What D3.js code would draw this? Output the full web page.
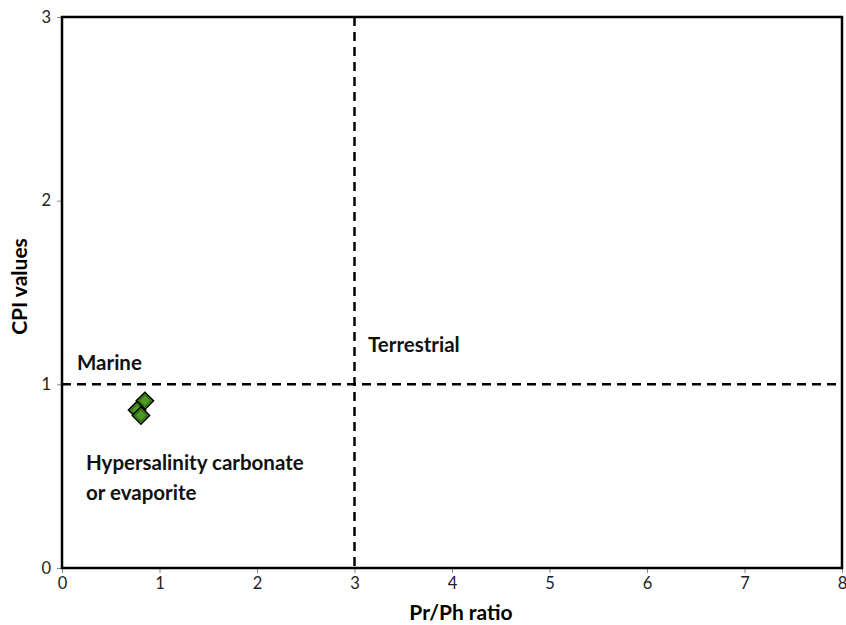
<!DOCTYPE html>
<html>
<head>
<meta charset="utf-8">
<script src="https://cdn.jsdelivr.net/npm/d3@7"></script>
<style>
  body { margin: 0; background: #fff; }
  svg text { font-family: Lato, "Open Sans", sans-serif; }
</style>
</head>
<body>
<svg id="chart" width="846" height="625"></svg>
<script>
// Pr/Ph ratio vs CPI values
const prPh = [0.85, 0.77, 0.81];
const cpi = [0.91, 0.86, 0.83];
const xTicks = [0, 1, 2, 3, 4, 5, 6, 7, 8];
const yTicks = [0, 1, 2, 3];
const xDivider = 3;
const yDivider = 1;

const svg = d3.select("#chart");
const margin = { left: 62, right: 4, top: 17, bottom: 57 };
const W = 846, H = 625;

const x = d3.scaleLinear().domain([0, 8]).range([margin.left, W - margin.right]);
const y = d3.scaleLinear().domain([0, 3]).range([H - margin.bottom, margin.top]);

// axes
const xAxis = svg.append("g")
  .attr("transform", `translate(0,${y(0)})`)
  .call(d3.axisBottom(x).tickValues(xTicks).tickFormat(d3.format("d")).tickSize(5).tickPadding(4));
const yAxis = svg.append("g")
  .attr("transform", `translate(${x(0)},0)`)
  .call(d3.axisLeft(y).tickValues(yTicks).tickFormat(d3.format("d")).tickSize(5).tickPadding(6));
[xAxis, yAxis].forEach(a => {
  a.select(".domain").remove();
  a.selectAll(".tick line").attr("stroke", "#888");
  a.selectAll(".tick text").attr("font-size", 16.5).attr("fill", "#222")
    .style("font-family", "Lato, 'Open Sans', sans-serif");
});

// frame
svg.append("rect")
  .attr("x", x(0)).attr("y", y(3))
  .attr("width", x(8) - x(0)).attr("height", y(0) - y(3))
  .attr("fill", "none").attr("stroke", "#000").attr("stroke-width", 2.5);

// divider lines
svg.append("line")
  .attr("x1", x(xDivider)).attr("x2", x(xDivider))
  .attr("y1", y(3)).attr("y2", y(0))
  .attr("stroke", "#000").attr("stroke-width", 2.5).attr("stroke-dasharray", "9,6");
svg.append("line")
  .attr("x1", x(0)).attr("x2", x(8))
  .attr("y1", y(yDivider)).attr("y2", y(yDivider))
  .attr("stroke", "#000").attr("stroke-width", 2.5).attr("stroke-dasharray", "9,6");

// points
const pts = prPh.map((v, i) => ({ x: v, y: cpi[i] }));
const diamond = d3.symbol().type(d3.symbolSquare).size(150);
const g = svg.append("g").selectAll("g").data(pts).join("g")
  .attr("transform", d => `translate(${x(d.x)},${y(d.y)}) rotate(45)`);
g.append("path").attr("d", diamond).attr("fill", "#4e9a25")
  .attr("stroke", "#000").attr("stroke-width", 1.5);
g.append("path").attr("d", d3.symbol().type(d3.symbolSquare).size(70))
  .attr("fill", "none").attr("stroke", "#2e6410").attr("stroke-width", 1);

// region labels
const lab = (t, px, py) => svg.append("text").attr("x", px).attr("y", py)
  .attr("font-size", 20.5).attr("font-weight", "bold").attr("fill", "#111").text(t);
lab("Marine", 77, 370);
lab("Terrestrial", 368, 352);
lab("Hypersalinity carbonate", 86, 470);
lab("or evaporite", 86, 500);

// axis titles
svg.append("text").attr("x", 461).attr("y", 620)
  .attr("text-anchor", "middle").attr("font-size", 21).attr("font-weight", "bold")
  .text("Pr/Ph ratio");
svg.append("text")
  .attr("transform", `translate(27,${(y(0) + y(3)) / 2 - 6}) rotate(-90)`)
  .attr("text-anchor", "middle").attr("font-size", 21).attr("font-weight", "bold")
  .text("CPI values");
</script>
</body>
</html>
